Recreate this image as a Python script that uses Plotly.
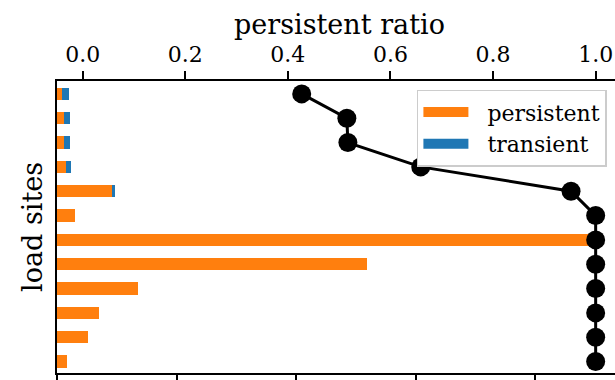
import plotly.graph_objects as go

# data (load sites ordered top to bottom)
sites = list(range(12))
persistent = [43, 57, 56, 77, 460, 151, 4494, 2597, 675, 349, 257, 81]
transient = [57, 54, 53, 40, 23, 0, 0, 0, 0, 0, 0, 0]
ratio = [0.427, 0.515, 0.517, 0.659, 0.952, 1.0, 1.0, 1.0, 1.0, 1.0, 1.0, 1.0]
bottom_ticks = [0, 1000, 2000, 3000, 4000]
ratio_ticks = [0.0, 0.2, 0.4, 0.6, 0.8, 1.0]
x_title = "persistent ratio"
y_title = "load sites"

ORANGE = "#ff7f0e"
BLUE = "#1f77b4"
INK = "#000000"
FONT = "DejaVu Serif"

fig = go.Figure()
fig.add_trace(go.Bar(y=sites, x=persistent, orientation="h", width=0.5,
                     marker=dict(color=ORANGE, line=dict(width=0)),
                     showlegend=False, xaxis="x", yaxis="y"))
fig.add_trace(go.Bar(y=sites, x=transient, orientation="h", width=0.5,
                     marker=dict(color=BLUE, line=dict(width=0)),
                     showlegend=False, xaxis="x", yaxis="y"))
fig.add_trace(go.Scatter(y=sites, x=ratio, mode="lines+markers",
                         line=dict(color=INK, width=3),
                         marker=dict(color=INK, size=19),
                         showlegend=False, xaxis="x2", yaxis="y"))
# legend entries
fig.add_trace(go.Scatter(x=[None], y=[None], mode="lines", name="\u00a0\u00a0persistent",
                         legendgroup="p",
                         line=dict(color=ORANGE, width=15), xaxis="x", yaxis="y"))
fig.add_trace(go.Scatter(x=[None], y=[None], mode="lines", name="\u00a0\u00a0transient",
                         legendgroup="t",
                         line=dict(color=BLUE, width=15), xaxis="x", yaxis="y"))

# axis titles
fig.add_annotation(xref="paper", yref="paper", x=0.507, y=1.192, showarrow=False,
                   xanchor="center", yanchor="middle",
                   text=x_title, font=dict(family=FONT, size=27, color=INK))
fig.add_annotation(xref="paper", yref="paper", x=-0.045, y=0.5, showarrow=False,
                   xanchor="center", yanchor="middle", textangle=-90,
                   text=y_title, font=dict(family=FONT, size=27, color=INK))

fig.update_layout(
    width=615, height=380,
    margin=dict(l=57, r=0, t=81, b=7),
    barmode="stack",
    plot_bgcolor="white", paper_bgcolor="white",
    font=dict(family=FONT, size=22, color=INK),
    xaxis=dict(range=[0, 4669], tickvals=bottom_ticks, showticklabels=False,
               ticks="outside", ticklen=7, tickwidth=1.5, tickcolor=INK,
               showline=True, linecolor=INK, linewidth=1.5,
               showgrid=False, zeroline=False, automargin=False),
    xaxis2=dict(range=[-0.05, 1.0377], overlaying="x", side="top", anchor="y",
                tickvals=ratio_ticks, tickformat=".1f",
                ticks="outside", ticklen=8, tickwidth=1.5, tickcolor=INK,
                showline=True, linecolor=INK, linewidth=1.5,
                showgrid=False, zeroline=False, automargin=False,
                tickfont=dict(family=FONT, size=22, color=INK)),
    yaxis=dict(range=[11.47, -0.53], showticklabels=False, ticks="",
               showline=True, linecolor=INK, linewidth=1.5,
               showgrid=False, zeroline=False, automargin=False),
    legend=dict(x=0.645, y=0.97, xanchor="left", yanchor="top",
                bgcolor="white", bordercolor="#cccccc", borderwidth=1.5,
                font=dict(family=FONT, size=22, color=INK), itemwidth=45,
                tracegroupgap=3, traceorder="normal"),
)

fig.write_html("out.html", config={"displayModeBar": False},
               post_script="document.body.style.margin='0px';")
